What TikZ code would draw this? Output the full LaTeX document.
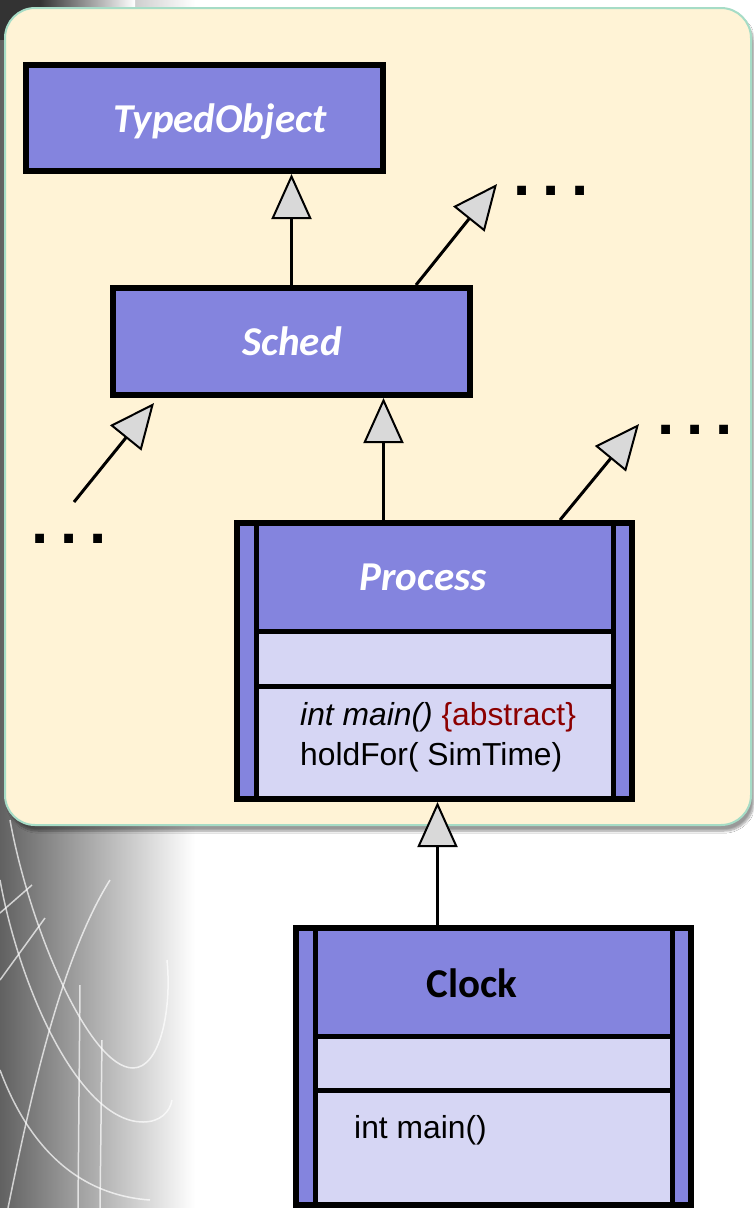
\documentclass[tikz,border=0pt]{standalone}
\usepackage{fontspec}
\setmainfont{Liberation Sans}
\newfontfamily\calibri{Carlito}
\usetikzlibrary{arrows.meta,shadows.blur}
\definecolor{umlhead}{RGB}{132,132,222}
\definecolor{umlbody}{RGB}{214,214,244}
\definecolor{trigray}{RGB}{217,217,217}
\definecolor{panelfill}{RGB}{255,243,214}
\definecolor{panelline}{RGB}{166,220,198}
\definecolor{abstractred}{RGB}{140,0,0}
\tikzset{
  classbox/.style = {draw, line width=6pt, fill=umlhead, inner sep=0pt},
  classname/.style = {text=white, anchor=base, inner sep=0pt,
    font=\calibri\bfseries\itshape\fontsize{41}{49}\selectfont},
  member/.style = {anchor=base west, inner sep=0pt, font=\fontsize{31.8}{38}\selectfont},
  compart/.style = {line width=5pt},
  inherit/.style = {line width=3pt,
    -{Triangle[length=45pt,width=40pt,fill=trigray,line width=2pt]}},
  moredots/.style = {anchor=west, inner sep=0pt,
    font=\bfseries\fontsize{62}{62}\selectfont},
  swirl/.style = {white, opacity=.7, line width=1.5pt}
}
\newcommand{\tripledot}{.\kern12pt.\kern12pt.}

\begin{document}
\begin{tikzpicture}[x=1pt,y=-1pt]
  \useasboundingbox (0,0) rectangle (753,1208);
  % backdrop
  \fill[white] (0,0) rectangle (753,1208);
  \shade[left color=black!62, right color=white] (0,0) rectangle (195,1208);
  \fill[black!80] (0,0) rectangle (40,40);
  \shade[left color=black!80, right color=white] (40,0) rectangle (135,40);
  \draw[swirl] (10,820) .. controls (30,930) and (90,1068) .. (133,1068)
    .. controls (160,1068) and (172,1010) .. (167,960);
  \draw[swirl] (0,880) .. controls (20,990) and (80,1122) .. (143,1122)
    .. controls (160,1122) and (170,1112) .. (172,1100);
  \draw[swirl] (0,1070) .. controls (30,1150) and (80,1195) .. (150,1200);
  \draw[swirl] (0,980) -- (45,918);
  \draw[swirl] (0,913) -- (32,885);
  \draw[swirl] (8,1208) .. controls (30,1100) and (60,960) .. (110,880);
  \draw[swirl] (80,985) -- (78,1208);
  \draw[swirl] (102,1040) -- (100,1208);
  % panel
  \draw[panelline, line width=2pt, fill=panelfill, rounded corners=30pt,
    blur shadow={shadow xshift=3pt, shadow yshift=-6pt, shadow blur steps=8}]
    (5,8) rectangle (751,825);

  % classes
  \node[classbox, minimum width=357pt, minimum height=106pt] (tobj) at (204.5,118) {};
  \node[classname] (tobjname) at (220,132) {TypedObject};

  \node[classbox, minimum width=357pt, minimum height=107pt] (sched) at (291.5,341.5) {};
  \node[classname] (schedname) at (292,355) {Sched};

  \node[classbox, minimum width=395pt, minimum height=276pt] (proc) at (434.5,661) {};
  \fill[umlbody] (256,631) rectangle (613,796);
  \draw[compart] (256,523) -- (256,799) (613,523) -- (613,799)
    (256,631) -- (613,631) (256,686) -- (613,686);
  \node[classname] (procname) at (423,590) {Process};
  \node[member] (procmain) at (300,725) {\textit{int main()} \textcolor{abstractred}{\{abstract\}}};
  \node[member] (prochold) at (300,765) {holdFor( SimTime)};

  \node[classbox, minimum width=395pt, minimum height=277pt] (clock) at (493.5,1066.5) {};
  \fill[umlbody] (315,1036) rectangle (672,1202);
  \draw[compart] (315,928) -- (315,1205) (672,928) -- (672,1205)
    (315,1036) -- (672,1036) (315,1090) -- (672,1090);
  \node[classname, text=black, font=\calibri\bfseries\fontsize{41}{49}\selectfont]
    (clockname) at (472,997) {Clock};
  \node[member] (clockmain) at (354,1138) {int main()};

  % generalisations
  \draw[inherit] (sched.north) -- (sched.north |- tobj.south);
  \draw[inherit] ([xshift=-51pt]proc.north) -- ([xshift=-51pt]proc.north |- sched.south);
  \draw[inherit] ([xshift=3pt]clock.north -| proc.south) -- ([xshift=3pt]proc.south);

  % other subclasses
  \coordinate (schedup) at (497,184);
  \coordinate (procup) at (639,424);
  \coordinate (schedlow) at (74,502);
  \draw[inherit] ([xshift=-57pt]sched.north east) -- (schedup);
  \draw[inherit] ([xshift=-75pt]proc.north east) -- (procup);
  \draw[inherit] (schedlow) -- ([xshift=44pt,yshift=-5pt]sched.south west);
  \node[moredots] (schedmore) at (513,191) {\tripledot};
  \node[moredots] (procmore) at (657,430) {\tripledot};
  \node[moredots] (lowmore) at (31,539) {\tripledot};
\end{tikzpicture}
\end{document}
